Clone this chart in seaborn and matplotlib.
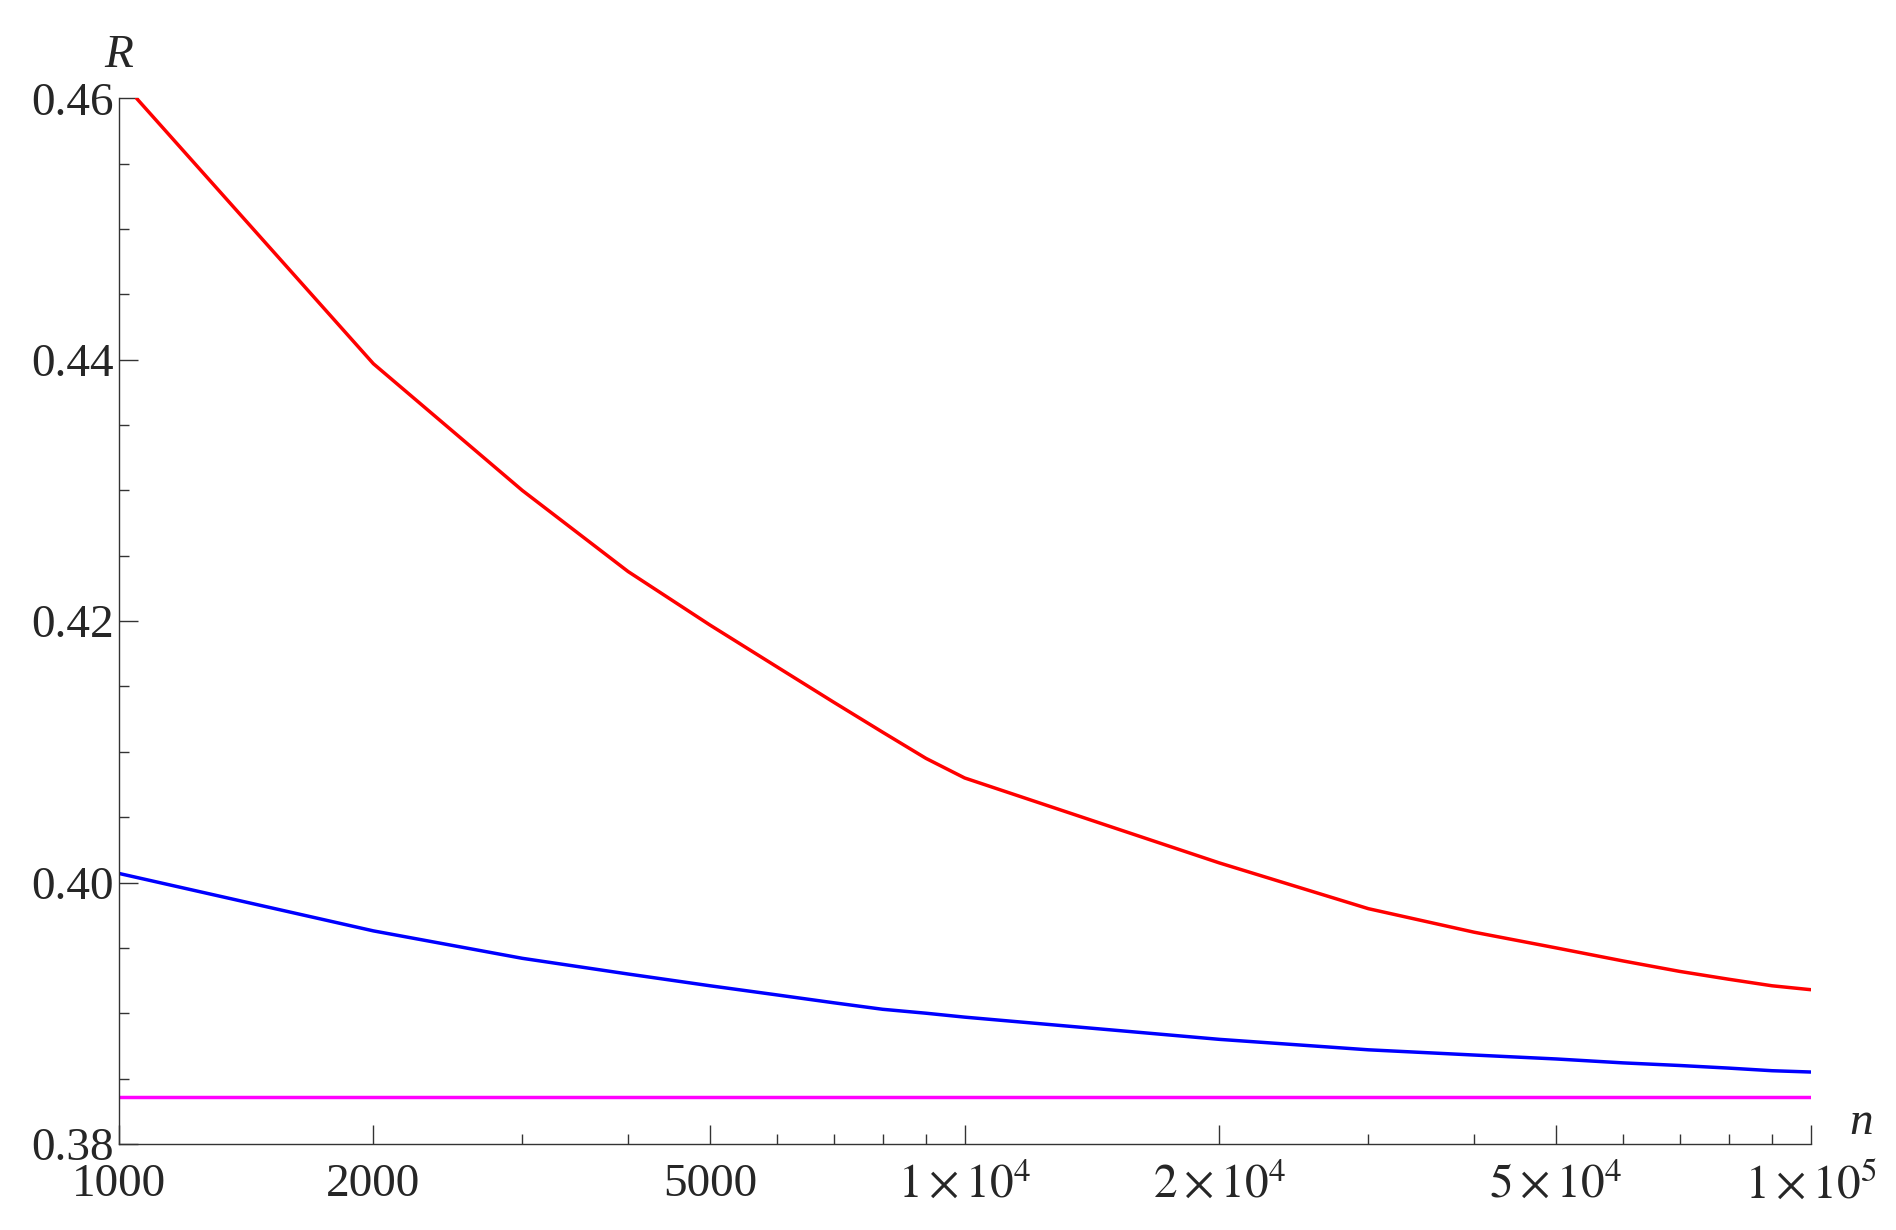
import matplotlib
matplotlib.use("Agg")
import matplotlib.pyplot as plt
import seaborn as sns
import pandas as pd
from matplotlib.ticker import FixedLocator, LogLocator, NullFormatter, MultipleLocator

sns.set_style("white")
plt.rcParams['font.family'] = ['Liberation Serif', 'DejaVu Serif']
plt.rcParams['mathtext.fontset'] = 'stix'

n_red = [1050, 2000, 3000, 4000, 5000, 6000, 7000, 8000, 9000, 10000,
         20000, 30000, 40000, 50000, 60000, 70000, 80000, 90000, 100000]
r_red = [0.4600, 0.4397, 0.4300, 0.4238, 0.4197, 0.4165, 0.4138, 0.4115, 0.4095, 0.4080,
         0.4015, 0.3980, 0.3962, 0.3950, 0.3940, 0.3932, 0.3926, 0.3921, 0.3918]
n_blue = [1000, 2000, 3000, 4000, 5000, 6000, 7000, 8000, 9000, 10000,
          20000, 30000, 40000, 50000, 60000, 70000, 80000, 90000, 100000]
r_blue = [0.4007, 0.3963, 0.3942, 0.3930, 0.3921, 0.3914, 0.3908, 0.3903, 0.3900, 0.3897,
          0.3880, 0.3872, 0.3868, 0.3865, 0.3862, 0.3860, 0.3858, 0.3856, 0.3855]
n_mag = [1000, 100000]
r_mag = [0.3836, 0.3836]

xticks = [1000, 2000, 5000, 10000, 20000, 50000, 100000]
xlabels = ['1000', '2000', '5000', r'$1\times10^{4}$', r'$2\times10^{4}$',
           r'$5\times10^{4}$', r'$1\times10^{5}$']
yticks = [0.38, 0.40, 0.42, 0.44, 0.46]

fig = plt.figure(figsize=(18.96, 12.30), dpi=100)
ax = fig.add_axes([0.0626, 0.070, 0.8924, 0.850])
sns.lineplot(x=n_red, y=r_red, color='#ff0000', lw=2.5, ax=ax)
sns.lineplot(x=n_blue, y=r_blue, color='#0000ff', lw=2.5, ax=ax)
sns.lineplot(x=n_mag, y=r_mag, color='#ff00ff', lw=2.5, ax=ax)
ax.set_xscale('log')
ax.set_xlim(1000, 100000)
ax.set_ylim(0.38, 0.46)
for s in ['top', 'right']:
    ax.spines[s].set_visible(False)
for s in ['left', 'bottom']:
    ax.spines[s].set_color('#333333')
    ax.spines[s].set_linewidth(1)
ax.xaxis.set_major_locator(FixedLocator(xticks))
ax.set_xticklabels(xlabels)
ax.xaxis.set_minor_locator(LogLocator(base=10, subs=range(1, 10)))
ax.xaxis.set_minor_formatter(NullFormatter())
ax.set_yticks(yticks)
ax.set_yticklabels([f'{v:.2f}' for v in yticks])
ax.yaxis.set_minor_locator(MultipleLocator(0.005))
ax.tick_params(axis='both', which='major', direction='in', length=14, width=1,
               labelsize=34, color='#333333', left=True, bottom=True)
ax.tick_params(axis='both', which='minor', direction='in', length=7, width=1,
               color='#333333', left=True, bottom=True)
ax.tick_params(axis='x', which='major', pad=14)
ax.text(0.0, 1.02, 'R', transform=ax.transAxes, fontsize=34, style='italic', ha='center', va='bottom')
ax.text(1.03, 0.0, 'n', transform=ax.transAxes, fontsize=34, style='italic', ha='center', va='bottom')
fig.savefig('out.png', dpi=100)
